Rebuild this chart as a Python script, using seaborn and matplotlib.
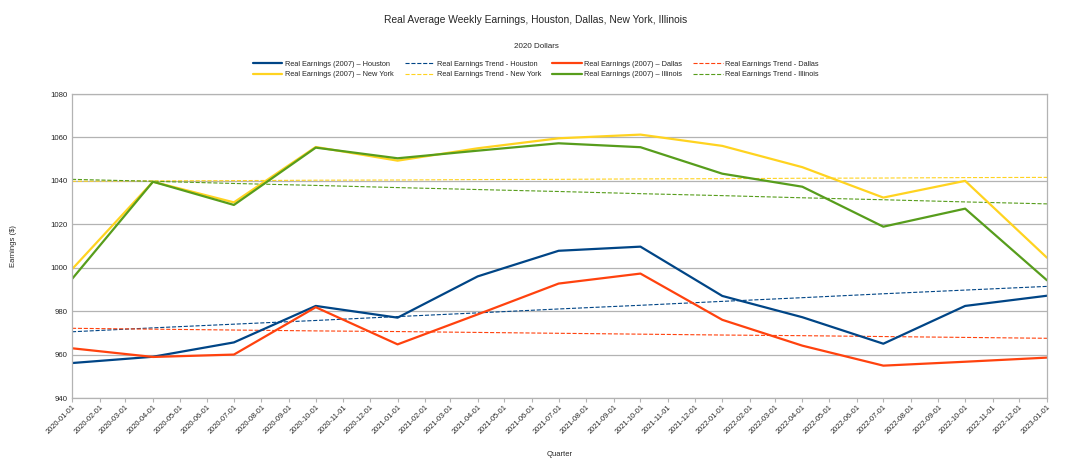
import pandas as pd
import numpy as np
import matplotlib.pyplot as plt
import matplotlib.dates as mdates
import seaborn as sns

# quarterly data
quarters = ['2020-01-01', '2020-04-01', '2020-07-01', '2020-10-01', '2021-01-01', '2021-04-01',
            '2021-07-01', '2021-10-01', '2022-01-01', '2022-04-01', '2022-07-01', '2022-10-01',
            '2023-01-01']

houston = [956.1, 959.0, 965.6, 982.4, 977.0, 996.0, 1007.8, 1009.7, 987.0, 977.2, 965.0, 982.4, 987.1]
dallas = [962.9, 958.9, 960.0, 981.8, 964.7, 978.5, 992.7, 997.3, 976.0, 964.1, 954.9, 956.7, 958.6]
new_york = [999.3, 1039.6, 1030.1, 1055.6, 1049.3, 1055.0, 1059.6, 1061.3, 1056.1, 1046.3, 1032.3, 1040.0, 1004.6]
illinois = [994.8, 1039.6, 1028.9, 1055.3, 1050.4, 1053.9, 1057.3, 1055.5, 1043.3, 1037.3, 1018.9, 1027.2, 994.2]

houston_trend = [970.5, 972.3, 974.0, 975.7, 977.5, 979.2, 981.0, 982.7, 984.5, 986.2, 988.0, 989.7, 991.4]
dallas_trend = [972.1, 971.7, 971.3, 970.9, 970.6, 970.2, 969.8, 969.4, 969.0, 968.7, 968.3, 967.9, 967.5]
new_york_trend = [1039.8, 1040.0, 1040.1, 1040.3, 1040.4, 1040.6, 1040.7, 1040.9, 1041.0, 1041.2, 1041.3, 1041.5, 1041.6]
illinois_trend = [1040.7, 1039.8, 1038.8, 1037.9, 1036.9, 1036.0, 1035.1, 1034.1, 1033.2, 1032.2, 1031.3, 1030.3, 1029.4]

tick_months = pd.date_range('2020-01-01', '2023-01-01', freq='MS')

df = pd.DataFrame({'Quarter': pd.to_datetime(quarters),
                   'houston': houston, 'dallas': dallas, 'new_york': new_york, 'illinois': illinois,
                   'houston_t': houston_trend, 'dallas_t': dallas_trend,
                   'new_york_t': new_york_trend, 'illinois_t': illinois_trend})

sns.set_style('white')
plt.rcParams['font.family'] = ['Liberation Sans', 'DejaVu Sans']

fig = plt.figure(figsize=(10.72, 4.66), dpi=100)
ax = fig.add_axes([72 / 1072, 1 - 398 / 466, 975 / 1072, 304 / 466])

series = [
    ('houston', 'Real Earnings (2007) \u2013 Houston', '#004586', '-', 1.6),
    ('new_york', 'Real Earnings (2007) \u2013 New York', '#ffd320', '-', 1.6),
    ('houston_t', 'Real Earnings Trend - Houston', '#004586', '--', 0.8),
    ('new_york_t', 'Real Earnings Trend - New York', '#ffd320', '--', 0.8),
    ('dallas', 'Real Earnings (2007) \u2013 Dallas', '#ff420e', '-', 1.6),
    ('illinois', 'Real Earnings (2007) \u2013 Illinois', '#579d1c', '-', 1.6),
    ('dallas_t', 'Real Earnings Trend - Dallas', '#ff420e', '--', 0.8),
    ('illinois_t', 'Real Earnings Trend - Illinois', '#579d1c', '--', 0.8),
]
# trends first so the solid lines sit on top
for col, lab, c, ls, lw in sorted(series, key=lambda s: s[3] == '-'):
    sns.lineplot(data=df, x='Quarter', y=col, ax=ax, color=c, linestyle=ls, linewidth=lw, label=lab)

handles, labels = ax.get_legend_handles_labels()
order = [s[1] for s in series]
hmap = dict(zip(labels, handles))
ax.legend([hmap[l] for l in order], order, ncol=4, loc='upper center',
          bbox_to_anchor=(536 / 1072, 1 - 57 / 466), bbox_transform=fig.transFigure,
          frameon=False, fontsize=5.3, handlelength=4.0, handletextpad=0.35, columnspacing=1.5,
          labelspacing=0.45, borderpad=0)

ax.set_ylim(940, 1080)
ax.set_yticks(np.arange(940, 1081, 20))
ax.set_xlim(tick_months[0], tick_months[-1])
ax.set_xticks(tick_months)
ax.xaxis.set_major_formatter(mdates.DateFormatter('%Y-%m-%d'))
ax.tick_params(axis='x', labelsize=5.3, rotation=45, length=3, color='#b3b3b3', pad=1, bottom=True)
ax.tick_params(axis='y', labelsize=5.6, length=0, pad=3)
for t in ax.get_xticklabels():
    t.set_ha('right')
    t.set_rotation_mode('anchor')
ax.grid(axis='y', color='#b3b3b3', linewidth=0.9)
for sp in ax.spines.values():
    sp.set_color('#b3b3b3')
    sp.set_linewidth(0.9)

ax.set_xlabel('Quarter', fontsize=5.5, labelpad=11)
ax.set_ylabel('Earnings ($)', fontsize=5.5, labelpad=24)

fig.text(0.5, 1 - 20 / 466, 'Real Average Weekly Earnings, Houston, Dallas, New York, Illinois',
         ha='center', va='center', fontsize=7.4)
fig.text(0.5, 1 - 46 / 466, '2020 Dollars', ha='center', va='center', fontsize=5.8)

fig.savefig('out.png', dpi=100)
